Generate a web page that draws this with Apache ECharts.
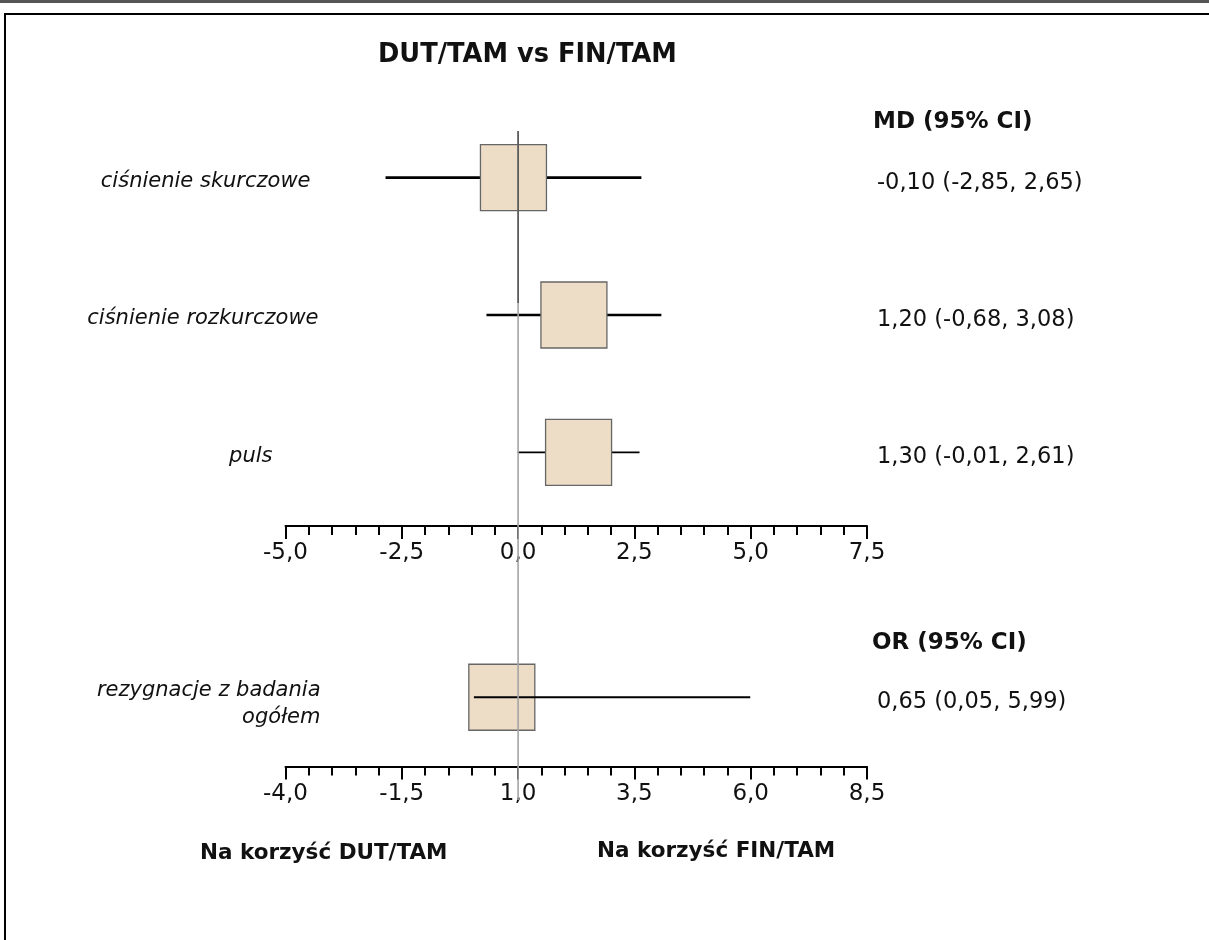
<!DOCTYPE html>
<html>
<head>
<meta charset="utf-8">
<title>DUT/TAM vs FIN/TAM</title>
<script src="https://cdn.jsdelivr.net/npm/echarts@6/dist/echarts.min.js"></script>
<style>
  html, body { margin: 0; padding: 0; background: #fff; }
  #chart { width: 1209px; height: 940px; }
</style>
</head>
<body>
<div id="chart"></div>
<script>
// Mean differences (MD) with 95% CI
const mdRows = ['ciśnienie skurczowe', 'ciśnienie rozkurczowe', 'puls'];
const mdEst = [-0.10, 1.20, 1.30];
const mdLow = [-2.85, -0.68, -0.01];
const mdHigh = [2.65, 3.08, 2.61];

// Odds ratio (OR) with 95% CI
const orRows = ['rezygnacje z badania\nogółem'];
const orEst = [0.65];
const orLow = [0.05];
const orHigh = [5.99];

// Axis scales
const mdAxis = { min: -5, max: 7.5, interval: 2.5 };
const orAxis = { min: -4, max: 8.5, interval: 2.5 };
const refMD = 0;
const refOR = 1;

// Line width of each CI whisker
const mdWhisker = [2.7, 2.7, 1.8];
const orWhisker = [2];

const FONT = '"DejaVu Sans", Verdana, sans-serif';
const num = v => v.toFixed(2).replace('.', ',');
const ciText = (e, l, h) => `${num(e)} (${num(l)}, ${num(h)})`;
const tickFmt = v => v.toFixed(1).replace('.', ',');

const mdLabels = mdRows.map((_, i) => ciText(mdEst[i], mdLow[i], mdHigh[i]));
const orLabels = orRows.map((_, i) => ciText(orEst[i], orLow[i], orHigh[i]));

const BOX = 66;

function forestItem(whiskers, lineOnTop) {
  return function (params, api) {
    const i = api.value(0);
    const c = api.coord([api.value(1), i]);
    const lo = api.coord([api.value(2), i]);
    const hi = api.coord([api.value(3), i]);
    const line = {
      type: 'line',
      shape: { x1: lo[0], y1: c[1], x2: hi[0], y2: c[1] },
      style: { stroke: '#000', lineWidth: whiskers[i] }
    };
    const box = {
      type: 'rect',
      shape: { x: c[0] - BOX / 2, y: c[1] - BOX / 2, width: BOX, height: BOX },
      style: { fill: '#EDDDC7', stroke: '#666', lineWidth: 1.3 }
    };
    return { type: 'group', children: lineOnTop ? [box, line] : [line, box] };
  };
}

const xAxisBase = (range, gridIndex, offset) => ({
  type: 'value', gridIndex, min: range.min, max: range.max, interval: range.interval,
  offset,
  axisLine: { show: true, onZero: false, lineStyle: { color: '#000', width: 2 } },
  axisTick: { show: true, length: 13, lineStyle: { color: '#000', width: 2 } },
  minorTick: { show: true, splitNumber: 5, length: 9, lineStyle: { color: '#000', width: 2 } },
  splitLine: { show: false },
  axisLabel: { formatter: tickFmt, margin: 16, color: '#111', fontFamily: FONT, fontSize: 23,
               showMinLabel: true, showMaxLabel: true }
});

const hiddenX = (range, gridIndex) => ({ type: 'value', gridIndex, min: range.min, max: range.max, show: false });
const hiddenY = gridIndex => ({ type: 'value', gridIndex, min: 0, max: 1, inverse: true, show: false });

const rowLabelPad = [10, 2, 48];

const italic = { fontFamily: FONT, fontSize: 21, fontStyle: 'italic', color: '#111' };
const plain = { fontFamily: FONT, fontSize: 22.5, color: '#111' };

const ciAxisLabel = {
  margin: 10, align: 'left',
  formatter: v => `{v|${v}}`,
  rich: { v: Object.assign({ padding: [10, 0, 0, 0] }, plain) }
};

const refLine = (xAxisIndex, yAxisIndex, x, color, width) => ({
  type: 'line', xAxisIndex, yAxisIndex, symbol: 'none', silent: true,
  data: [[x, 0], [x, 1]], lineStyle: { color, width }, z: 5
});

const option = {
  backgroundColor: '#fff',
  animation: false,
  title: {
    text: 'DUT/TAM vs FIN/TAM',
    left: 378, top: 42, padding: 0,
    textStyle: { fontFamily: FONT, fontSize: 25.7, fontWeight: 'bold', color: '#111' }
  },
  grid: [
    { left: 285.5, right: 342, top: 109, height: 412 },      // MD rows
    { left: 285.5, right: 342, top: 628, height: 138.5 },    // OR row
    { left: 285.5, right: 342, top: 131, height: 172 },      // reference line, upper part
    { left: 285.5, right: 342, top: 303, height: 297 },      // reference line, middle part
    { left: 285.5, right: 342, top: 600, height: 200 },      // reference line, lower part
    { left: 285.5, right: 342, top: 635, height: 138.5 }     // OR row name
  ],
  xAxis: [
    xAxisBase(mdAxis, 0, 5),
    xAxisBase(orAxis, 1, 0),
    hiddenX(mdAxis, 2),
    hiddenX(mdAxis, 3),
    hiddenX(orAxis, 4),
    hiddenX(orAxis, 5)
  ],
  yAxis: [
    {
      type: 'category', gridIndex: 0, data: mdRows, inverse: true, position: 'left', offset: -35,
      axisLine: { show: false }, axisTick: { show: false },
      axisLabel: {
        margin: 0,
        formatter: (v, i) => `{r${i}|${v}}`,
        rich: Object.fromEntries(rowLabelPad.map((p, i) => ['r' + i,
          Object.assign({ padding: [8, p, 0, 0] }, italic)]))
      }
    },
    {
      type: 'category', gridIndex: 0, data: mdLabels, inverse: true, position: 'right',
      axisLine: { show: false }, axisTick: { show: false },
      axisLabel: ciAxisLabel
    },
    {
      type: 'category', gridIndex: 1, data: orRows, inverse: true, position: 'left',
      show: false
    },
    {
      type: 'category', gridIndex: 1, data: orLabels, inverse: true, position: 'right',
      axisLine: { show: false }, axisTick: { show: false },
      axisLabel: ciAxisLabel
    },
    hiddenY(2), hiddenY(3), hiddenY(4),
    {
      type: 'category', gridIndex: 5, data: orRows, inverse: true, position: 'left', offset: -35,
      axisLine: { show: false }, axisTick: { show: false },
      axisLabel: Object.assign({ margin: 0, align: 'right', lineHeight: 27 }, italic)
    }
  ],
  series: [
    {
      type: 'custom', name: 'MD', xAxisIndex: 0, yAxisIndex: 0,
      renderItem: forestItem(mdWhisker, false),
      encode: { x: [1, 2, 3], y: 0 },
      data: mdRows.map((_, i) => [i, mdEst[i], mdLow[i], mdHigh[i]]),
      z: 2
    },
    {
      type: 'custom', name: 'OR', xAxisIndex: 1, yAxisIndex: 2,
      renderItem: forestItem(orWhisker, true),
      encode: { x: [1, 2, 3], y: 0 },
      data: orRows.map((_, i) => [i, orEst[i], orLow[i], orHigh[i]]),
      z: 2
    },
    refLine(2, 4, refMD, '#5c5c5c', 1.8),
    refLine(3, 5, refMD, '#a4a4a4', 1.6),
    refLine(4, 6, refOR, '#a4a4a4', 1.6)
  ],
  graphic: [
    { type: 'rect', shape: { x: 0, y: 0, width: 1209, height: 3 }, style: { fill: '#555' }, silent: true },
    { type: 'rect', shape: { x: 5, y: 14, width: 1220, height: 940 },
      style: { fill: 'none', stroke: '#000', lineWidth: 2 }, silent: true },
    { type: 'text', left: 873, top: 111,
      style: { text: 'MD (95% CI)', fontFamily: FONT, fontSize: 23, fontWeight: 'bold', fill: '#111' } },
    { type: 'text', left: 872, top: 632,
      style: { text: 'OR (95% CI)', fontFamily: FONT, fontSize: 23, fontWeight: 'bold', fill: '#111' } },
    { type: 'text', left: 200, top: 842,
      style: { text: 'Na korzyść DUT/TAM', fontFamily: FONT, fontSize: 21.5, fontWeight: 'bold', fill: '#111' } },
    { type: 'text', left: 597, top: 840,
      style: { text: 'Na korzyść FIN/TAM', fontFamily: FONT, fontSize: 21.5, fontWeight: 'bold', fill: '#111' } }
  ]
};

const chart = echarts.init(document.getElementById('chart'), null, { renderer: 'canvas' });
chart.setOption(option);
</script>
</body>
</html>
